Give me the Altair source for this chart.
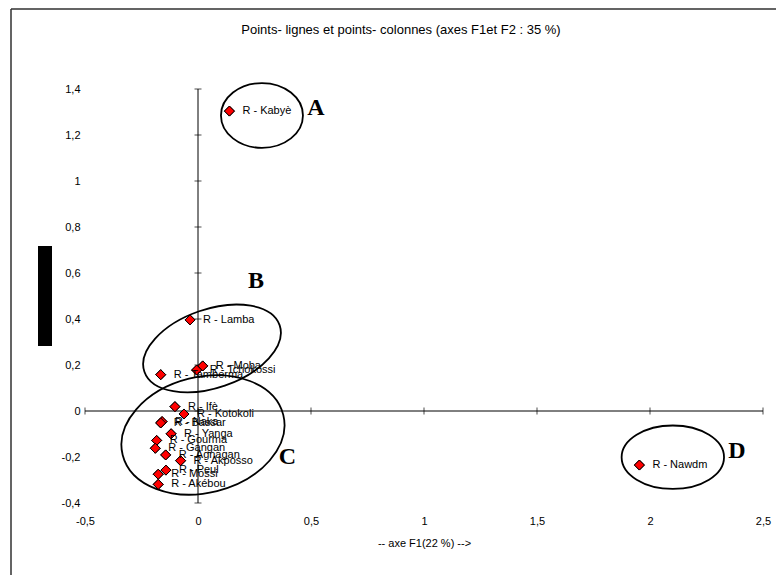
import altair as alt
import pandas as pd

# ---- data ----
names = ["R - Kabyè", "R - Lamba", "R - Moba", "R - Tchokossi", "R - Tamberma",
         "R - Ifè", "R - Kotokoli", "R - Naka", "R - Bassar", "R - Yanga",
         "R - Gourma", "R - Gangan", "R - Agnagan", "R - Akposso", "R - Peul",
         "R - Mossi", "R - Akébou", "R - Nawdm"]
f1 = [0.139, -0.035, 0.021, -0.006, -0.165,
      -0.102, -0.062, -0.159, -0.165, -0.119,
      -0.183, -0.189, -0.143, -0.077, -0.142,
      -0.176, -0.176, 1.953]
f2 = [1.304, 0.396, 0.196, 0.178, 0.158,
      0.019, -0.013, -0.046, -0.052, -0.099,
      -0.128, -0.162, -0.191, -0.216, -0.257,
      -0.275, -0.319, -0.235]

xticks = [-0.5, 0, 0.5, 1, 1.5, 2, 2.5]
yticks = [-0.4, -0.2, 0, 0.2, 0.4, 0.6, 0.8, 1.0, 1.2, 1.4]

groups = ["A", "B", "C", "D"]
group_cx = [0.283, 0.062, 0.022, 2.101]
group_cy = [1.285, 0.272, -0.104, -0.201]
group_ratio = [0.79, 0.55, 0.70, 0.62]
group_size = [6724, 20449, 27400, 10486]
group_angle = [0, 341, 346, 0]
letter_x = [0.522, 0.257, 0.396, 2.385]
letter_y = [1.317, 0.565, -0.198, -0.172]

title_text = "Points- lignes et points- colonnes (axes F1et F2 : 35 %)"
xtitle = "-- axe F1(22 %) -->"

# ---- tables ----
pts = pd.DataFrame({"name": names, "f1": f1, "f2": f2})
xt = pd.DataFrame({"v": xticks})
yt = pd.DataFrame({"v": yticks})
ell = pd.DataFrame({
    "g": groups, "cx": group_cx, "cy": group_cy,
    "shape": [f"M -1 0 A 1 {r} 0 1 0 1 0 A 1 {r} 0 1 0 -1 0 Z" for r in group_ratio],
    "s": group_size, "a": group_angle, "lx": letter_x, "ly": letter_y,
})
one = pd.DataFrame({"k": [0]})

FONT = "Liberation Sans"
lab = "replace(replace(format(datum.value, '.1~f'), '.', ','), '\u2212', '-')"

xscale = alt.Scale(domain=[-0.5, 2.5], nice=False, zero=False)
yscale = alt.Scale(domain=[-0.4, 1.4], nice=False, zero=False)

base = alt.Chart(pts)

points = base.mark_point(shape="diamond", filled=True, fill="#FF0000",
                         stroke="black", strokeWidth=1, size=100, opacity=1).encode(
    x=alt.X("f1:Q", scale=xscale,
            axis=alt.Axis(values=xticks, labelExpr=lab, domain=False, ticks=False,
                          grid=False, labelFont=FONT, labelFontSize=11,
                          labelColor="black", labelPadding=12, title=xtitle,
                          titleFont=FONT, titleFontSize=11, titleFontWeight="normal",
                          titleColor="black", titlePadding=11, labelFlush=False)),
    y=alt.Y("f2:Q", scale=yscale,
            axis=alt.Axis(values=yticks, labelExpr=lab, domain=False, ticks=False,
                          grid=False, labelFont=FONT, labelFontSize=11,
                          labelColor="black", labelPadding=5, title=None,
                          labelFlush=False)),
)

labels = base.mark_text(align="left", baseline="middle", dx=13, font=FONT,
                        fontSize=11, color="black").encode(
    x="f1:Q", y="f2:Q", text="name:N")

xline = alt.Chart(one).mark_rule(color="black", strokeWidth=1).encode(
    x=alt.datum(-0.5), x2=alt.datum(2.5), y=alt.datum(0))
yline = alt.Chart(one).mark_rule(color="black", strokeWidth=1).encode(
    y=alt.datum(-0.4), y2=alt.datum(1.4), x=alt.datum(0))
xtk = alt.Chart(xt).mark_tick(orient="vertical", color="black", size=7,
                              thickness=1).encode(x="v:Q", y=alt.datum(0))
ytk = alt.Chart(yt).mark_tick(orient="horizontal", color="black", size=7,
                              thickness=1).encode(y="v:Q", x=alt.datum(0))

ellipses = alt.Chart(ell).mark_point(filled=False, stroke="black", strokeWidth=1.8,
                                     opacity=1).encode(
    x="cx:Q", y="cy:Q",
    shape=alt.Shape("shape:N", scale=None),
    size=alt.Size("s:Q", scale=None),
    angle=alt.Angle("a:Q", scale=None),
)
letters = alt.Chart(ell).mark_text(font="Liberation Serif", fontWeight="bold",
                                   fontSize=24, color="black", baseline="middle",
                                   align="center").encode(
    x="lx:Q", y="ly:Q", text="g:N")

# chart frame, title and the black box on the left
frame_v = alt.Chart(one).mark_rule(color="#303030", strokeWidth=1.5).encode(
    x=alt.value(-74), y=alt.value(-80), y2=alt.value(500))
frame_h = alt.Chart(one).mark_rule(color="#303030", strokeWidth=1.5).encode(
    y=alt.value(-80), x=alt.value(-74), x2=alt.value(700))
title = alt.Chart(one).mark_text(font=FONT, fontSize=13, color="black",
                                 baseline="middle", align="center").encode(
    x=alt.value(316), y=alt.value(-59), text=alt.value(title_text))
blackbox = alt.Chart(one).mark_rect(color="black").encode(
    x=alt.value(-47), x2=alt.value(-33), y=alt.value(157), y2=alt.value(257))

chart = alt.layer(
    points, xline, yline, xtk, ytk, ellipses, letters, points, labels,
    frame_v, frame_h, title, blackbox
).properties(
    width=678, height=414,
    padding={"left": 85, "top": 89, "right": 13, "bottom": 72},
    autosize=alt.AutoSizeParams(type="none"),
    background="white",
).configure_view(strokeWidth=0)

chart.save("out.html", embed_options={"renderer": "svg", "actions": False})
